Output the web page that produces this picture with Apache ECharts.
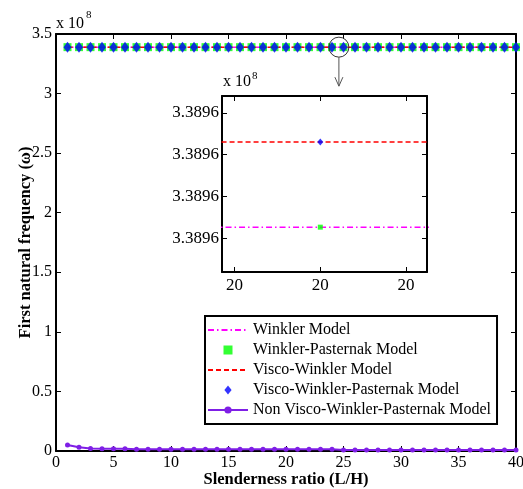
<!DOCTYPE html>
<html>
<head>
<meta charset="utf-8">
<script src="https://cdn.jsdelivr.net/npm/echarts@6/dist/echarts.min.js"></script>
<style>
html,body{margin:0;padding:0;background:#fff;}
#chart{width:523px;height:489px;}
</style>
</head>
<body>
<div id="chart"></div>
<script>
// Slenderness ratio (L/H)
var slenderness = [1,2,3,4,5,6,7,8,9,10,11,12,13,14,15,16,17,18,19,20,21,22,23,24,25,26,27,28,29,30,31,32,33,34,35,36,37,38,39,40];
// First natural frequency, in units of 1e8
var winkler = [3.3896027,3.3896027,3.3896027,3.3896027,3.3896027,3.3896027,3.3896027,3.3896027,3.3896027,3.3896027,3.3896027,3.3896027,3.3896027,3.3896027,3.3896027,3.3896027,3.3896027,3.3896027,3.3896027,3.3896027,3.3896027,3.3896027,3.3896027,3.3896027,3.3896027,3.3896027,3.3896027,3.3896027,3.3896027,3.3896027,3.3896027,3.3896027,3.3896027,3.3896027,3.3896027,3.3896027,3.3896027,3.3896027,3.3896027,3.3896027];
var winklerPasternak = [3.3896027,3.3896027,3.3896027,3.3896027,3.3896027,3.3896027,3.3896027,3.3896027,3.3896027,3.3896027,3.3896027,3.3896027,3.3896027,3.3896027,3.3896027,3.3896027,3.3896027,3.3896027,3.3896027,3.3896027,3.3896027,3.3896027,3.3896027,3.3896027,3.3896027,3.3896027,3.3896027,3.3896027,3.3896027,3.3896027,3.3896027,3.3896027,3.3896027,3.3896027,3.3896027,3.3896027,3.3896027,3.3896027,3.3896027,3.3896027];
var viscoWinkler = [3.3896230,3.3896230,3.3896230,3.3896230,3.3896230,3.3896230,3.3896230,3.3896230,3.3896230,3.3896230,3.3896230,3.3896230,3.3896230,3.3896230,3.3896230,3.3896230,3.3896230,3.3896230,3.3896230,3.3896230,3.3896230,3.3896230,3.3896230,3.3896230,3.3896230,3.3896230,3.3896230,3.3896230,3.3896230,3.3896230,3.3896230,3.3896230,3.3896230,3.3896230,3.3896230,3.3896230,3.3896230,3.3896230,3.3896230,3.3896230];
var viscoWinklerPasternak = [3.3896230,3.3896230,3.3896230,3.3896230,3.3896230,3.3896230,3.3896230,3.3896230,3.3896230,3.3896230,3.3896230,3.3896230,3.3896230,3.3896230,3.3896230,3.3896230,3.3896230,3.3896230,3.3896230,3.3896230,3.3896230,3.3896230,3.3896230,3.3896230,3.3896230,3.3896230,3.3896230,3.3896230,3.3896230,3.3896230,3.3896230,3.3896230,3.3896230,3.3896230,3.3896230,3.3896230,3.3896230,3.3896230,3.3896230,3.3896230];
var nonVisco = [0.050,0.031,0.020,0.019,0.019,0.019,0.014,0.014,0.014,0.014,0.014,0.014,0.014,0.014,0.014,0.014,0.014,0.014,0.014,0.014,0.014,0.014,0.014,0.014,0.008,0.008,0.008,0.008,0.008,0.008,0.008,0.008,0.008,0.008,0.008,0.008,0.008,0.008,0.008,0.008];
// inset tick values (zoom around L/H = 20)
var insetYTicks = [3.38960, 3.38961, 3.38962, 3.38963];
var insetXTicks = [19.999, 20, 20.001];
var seriesNames = ['Winkler Model','Winkler-Pasternak Model','Visco-Winkler Model','Visco-Winkler-Pasternak Model','Non Visco-Winkler-Pasternak Model'];

function pairs(ys){ return slenderness.map(function(x,i){ return [x, ys[i]]; }); }

var FONT = 'Liberation Serif';
var chart = echarts.init(document.getElementById('chart'), null, {renderer:'canvas'});

var frameAxisLine = {show:true, onZero:false, lineStyle:{color:'#000', width:2}};
var tickIn = {show:true, inside:true, length:5, lineStyle:{color:'#000', width:1}};
var labelStyle = {color:'#000', fontFamily:FONT, fontSize:16};
var insetLabelStyle = {color:'#000', fontFamily:FONT, fontSize:17};
var NONE = 'rgba(0,0,0,0)';

var option = {
  animation:false,
  backgroundColor:'#fff',
  grid:[
    {left:56, top:34, width:460, height:417, containLabel:false, outerBoundsMode:'none'},
    {left:222, top:96, width:205, height:176, containLabel:false, outerBoundsMode:'none', show:true, backgroundColor:'#fff', borderWidth:0}
  ],
  xAxis:[
    {type:'value', gridIndex:0, min:0, max:40, interval:5, position:'bottom',
     axisLine:frameAxisLine, axisTick:tickIn, splitLine:{show:false},
     axisLabel:Object.assign({margin:4}, labelStyle),
     name:'Slenderness ratio (L/H)', nameLocation:'middle', nameGap:20, nameMoveOverlap:false,
     nameTextStyle:{color:'#000', fontFamily:FONT, fontSize:16.5, fontWeight:'bold'}},
    {type:'value', gridIndex:0, min:0, max:40, interval:5, position:'top',
     axisLine:frameAxisLine, axisTick:tickIn, splitLine:{show:false}, axisLabel:{show:false}},
    {type:'value', gridIndex:1, min:19.998854, max:20.001244, position:'bottom',
     axisLine:frameAxisLine,
     axisTick:Object.assign({customValues:insetXTicks}, tickIn),
     splitLine:{show:false},
     axisLabel:Object.assign({customValues:insetXTicks, margin:5, formatter:function(v){return '20';}}, insetLabelStyle)},
    {type:'value', gridIndex:1, min:19.998854, max:20.001244, position:'top',
     axisLine:frameAxisLine,
     axisTick:Object.assign({customValues:insetXTicks}, tickIn),
     splitLine:{show:false}, axisLabel:{show:false}}
  ],
  yAxis:[
    {type:'value', gridIndex:0, min:0, max:3.5, interval:0.5, position:'left',
     axisLine:frameAxisLine, axisTick:tickIn, splitLine:{show:false},
     axisLabel:Object.assign({margin:4}, labelStyle),
     name:'First natural frequency (\u03C9)', nameLocation:'middle', nameGap:22, nameRotate:90, nameMoveOverlap:false,
     nameTextStyle:{color:'#000', fontFamily:FONT, fontSize:16.5, fontWeight:'bold'}},
    {type:'value', gridIndex:0, min:0, max:3.5, interval:0.5, position:'right',
     axisLine:frameAxisLine, axisTick:tickIn, splitLine:{show:false}, axisLabel:{show:false}},
    {type:'value', gridIndex:1, min:3.389592, max:3.389634, position:'left',
     axisLine:frameAxisLine,
     axisTick:Object.assign({customValues:insetYTicks}, tickIn),
     splitLine:{show:false},
     axisLabel:Object.assign({customValues:insetYTicks, margin:3, formatter:function(v){return v.toFixed(4);}}, insetLabelStyle)},
    {type:'value', gridIndex:1, min:3.389592, max:3.389634, position:'right',
     axisLine:frameAxisLine,
     axisTick:Object.assign({customValues:insetYTicks}, tickIn),
     splitLine:{show:false}, axisLabel:{show:false}}
  ],
  legend:{
    left:205, top:316, orient:'vertical',
    itemWidth:40, itemHeight:9, itemGap:4,
    padding:[6,6,6,2],
    symbolKeepAspect:true,
    backgroundColor:'#fff', borderColor:'#000', borderWidth:2, borderRadius:0,
    textStyle:{color:'#000', fontFamily:FONT, fontSize:16},
    data:[
      {name:seriesNames[0]},
      {name:seriesNames[1], icon:'path://M0,0L8,0L8,8L0,8Z', itemStyle:{color:'#00ff00'}},
      {name:seriesNames[2]},
      {name:seriesNames[3], icon:'path://M4,0L8,5L4,10L0,5Z', itemStyle:{color:'#0000ff'}},
      {name:seriesNames[4]}
    ]
  },
  series:[
    // main plot
    {name:seriesNames[0], type:'line', xAxisIndex:0, yAxisIndex:0, data:pairs(winkler),
     symbol:'none', itemStyle:{color:NONE}, lineStyle:{color:'#ff00ff', width:1.5, type:[6,3,1.5,3]}, z:2},
    {name:seriesNames[2], type:'line', xAxisIndex:0, yAxisIndex:0, data:pairs(viscoWinkler),
     symbol:'none', itemStyle:{color:NONE}, lineStyle:{color:'#ff0000', width:1.5, type:[5,3]}, z:3},
    {name:seriesNames[1], type:'scatter', xAxisIndex:0, yAxisIndex:0, data:pairs(winklerPasternak),
     symbol:'rect', symbolSize:8, itemStyle:{color:'#00ff00'}, z:4},
    {name:seriesNames[3], type:'scatter', xAxisIndex:0, yAxisIndex:0, data:pairs(viscoWinklerPasternak),
     symbol:'diamond', symbolSize:[8,11], itemStyle:{color:'#0000ff'}, z:5},
    {name:seriesNames[4], type:'line', xAxisIndex:0, yAxisIndex:0, data:pairs(nonVisco),
     symbol:'circle', symbolSize:5, showSymbol:true, color:'#7f1fe6',
     itemStyle:{color:'#7f1fe6'}, lineStyle:{color:'#7f1fe6', width:2}, z:3},
    // inset
    {name:seriesNames[0], type:'line', xAxisIndex:2, yAxisIndex:2, data:pairs(winkler),
     symbol:'none', itemStyle:{color:NONE}, lineStyle:{color:'#ff00ff', width:1.5, type:[6,3,1.5,3]}, z:2},
    {name:seriesNames[2], type:'line', xAxisIndex:2, yAxisIndex:2, data:pairs(viscoWinkler),
     symbol:'none', itemStyle:{color:NONE}, lineStyle:{color:'#ff0000', width:1.5, type:[5,3]}, z:2},
    {name:seriesNames[1], type:'scatter', xAxisIndex:2, yAxisIndex:2, data:pairs(winklerPasternak),
     symbol:'rect', symbolSize:5, itemStyle:{color:'#00ff00'}, z:4},
    {name:seriesNames[3], type:'scatter', xAxisIndex:2, yAxisIndex:2, data:pairs(viscoWinklerPasternak),
     symbol:'diamond', symbolSize:[6,7], itemStyle:{color:'#0000ff'}, z:5}
  ]
};
chart.setOption(option);

// annotations: exponent labels, zoom circle and arrow
var pMainTopLeft = chart.convertToPixel({xAxisIndex:0, yAxisIndex:0}, [0, 3.5]);
var pInsetTopLeft = chart.convertToPixel({xAxisIndex:2, yAxisIndex:2}, [19.998854, 3.389634]);
var pCircle = chart.convertToPixel({xAxisIndex:0, yAxisIndex:0}, [24.6, 3.3896]);
var cx = pCircle[0], cy = pCircle[1];
var r = 10;
chart.setOption({
  graphic:[
    {type:'text', left:pMainTopLeft[0], top:pMainTopLeft[1]-18,
     style:{text:'x 10', fill:'#000', font:'16px "Liberation Serif"'}},
    {type:'text', left:pMainTopLeft[0]+30, top:pMainTopLeft[1]-24,
     style:{text:'8', fill:'#000', font:'11px "Liberation Serif"'}},
    {type:'text', left:pInsetTopLeft[0]+1, top:pInsetTopLeft[1]-22,
     style:{text:'x 10', fill:'#000', font:'16px "Liberation Serif"'}},
    {type:'text', left:pInsetTopLeft[0]+30, top:pInsetTopLeft[1]-25,
     style:{text:'8', fill:'#000', font:'11px "Liberation Serif"'}},
    {type:'circle', shape:{cx:cx, cy:cy, r:r}, style:{fill:'none', stroke:'#333', lineWidth:1}, z:100},
    {type:'line', shape:{x1:cx, y1:cy+r, x2:cx, y2:cy+r+29}, style:{stroke:'#555', lineWidth:1}, z:100},
    {type:'polyline', shape:{points:[[cx-4, cy+r+20],[cx, cy+r+29],[cx+4, cy+r+20]]}, style:{fill:'none', stroke:'#555', lineWidth:1}, z:100}
  ]
});
</script>
</body>
</html>
